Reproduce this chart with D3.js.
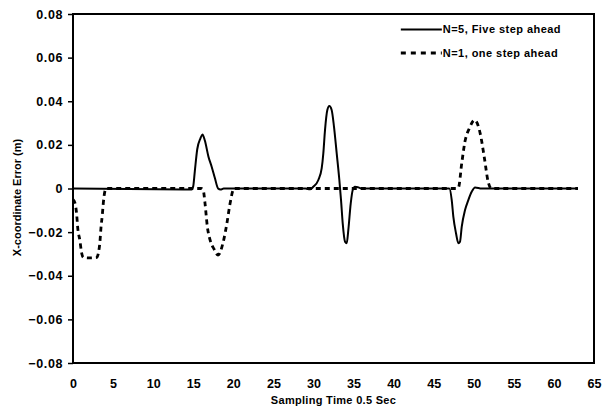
<!DOCTYPE html>
<html>
<head>
<meta charset="utf-8">
<script src="https://cdn.jsdelivr.net/npm/d3@7"></script>
<style>
  body { margin: 0; background: #fff; }
  text { font-family: "Liberation Sans", Arial, sans-serif; font-weight: bold; fill: #000; }
</style>
</head>
<body>
<div id="chart"></div>
<script>
// Data
let timeFive = [0, 14.8, 15.0, 15.2, 15.5, 15.9, 16.15, 16.45, 16.9, 17.3, 17.7, 18.1, 18.4, 18.8,
  29.0, 29.57, 29.98, 30.61, 31.03, 31.23, 31.44, 31.73, 31.98, 32.27, 32.56, 32.9, 33.23, 33.44,
  33.65, 33.94, 34.15, 34.35, 34.65, 34.9, 35.18, 35.6, 36.0,
  46.6, 46.95, 47.25, 47.45, 47.79, 48.08, 48.28, 48.5, 48.91, 49.32, 49.74, 50.16, 50.99, 63];
let errFive = [0, -0.0005, 0.001, 0.008, 0.018, 0.023, 0.0248, 0.022, 0.0146, 0.01, 0.0048, 0, -0.0005, 0,
  0, -0.0004, 0.0008, 0.0039, 0.0093, 0.0161, 0.0268, 0.036, 0.0378, 0.036, 0.0284, 0.0161, 0.0039, -0.0053,
  -0.016, -0.0244, -0.0251, -0.019, -0.0068, -0.0007, 0.0008, 0.0005, 0,
  0, 0, -0.0053, -0.0129, -0.0206, -0.0251, -0.0244, -0.0175, -0.0099, -0.0053, -0.0015, 0.0005, 0, 0];

let timeOne = [0, 0.25, 0.46, 0.59, 0.87, 1.05, 1.29, 2.0, 2.96, 3.16, 3.37, 3.49, 3.66, 3.78, 4.12,
  16.0, 16.26, 16.47, 16.76, 17.1, 17.6, 18.1, 18.75, 19.2, 19.6, 20.1,
  47.9, 48.1, 48.5, 48.9, 49.45, 50.1, 50.8, 51.3, 51.8, 52.2, 63];
let errOne = [-0.005, -0.0067, -0.012, -0.018, -0.024, -0.029, -0.0316, -0.0318, -0.0316, -0.0297, -0.024, -0.018, -0.012, -0.0067, 0,
  0, -0.001, -0.0068, -0.0175, -0.0236, -0.0278, -0.0305, -0.0244, -0.016, -0.0068, 0,
  0, 0.0005, 0.0116, 0.0215, 0.0276, 0.0314, 0.0253, 0.0146, 0.003, 0, 0];

let xTicks = d3.range(0, 66, 5);
let yTicks = [-0.08, -0.06, -0.04, -0.02, 0, 0.02, 0.04, 0.06, 0.08];
let seriesNames = ["N=5, Five step ahead", "N=1, one step ahead"];

// Dimensions of chart.
let margin = { top: 14, right: 17, bottom: 46, left: 73 },
  width = 611 - margin.left - margin.right,
  height = 409 - margin.top - margin.bottom;

let svg = d3
  .select("#chart")
  .append("svg")
  .attr("width", 611)
  .attr("height", 409)
  .append("g")
  .attr("transform", "translate(" + margin.left + "," + margin.top + ")");

let x = d3.scaleLinear().domain([0, 65]).range([0, width]);
let y = d3.scaleLinear().domain([-0.08, 0.08]).range([height, 0]);

// x-axis
let xAxis = d3.axisBottom(x).tickValues(xTicks).tickSize(0).tickPadding(16);
let xAxisEl = svg
  .append("g")
  .attr("transform", "translate(0," + height + ")")
  .call(xAxis);
xAxisEl.select(".domain").remove();
xAxisEl.selectAll("text").style("font-size", "12.5px").style("font-family", null);

// y-axis
let yAxis = d3
  .axisLeft(y)
  .tickValues(yTicks)
  .tickSize(5)
  .tickPadding(5)
  .tickFormat((d) => (d === 0 ? "0" : d3.format(".2f")(d)));
let yAxisEl = svg.append("g").call(yAxis);
yAxisEl.select(".domain").remove();
yAxisEl.selectAll("line").attr("stroke", "#000").attr("stroke-width", 1.5);
yAxisEl
  .selectAll("text")
  .style("font-size", "12.5px")
  .style("letter-spacing", "0.6px")
  .style("font-family", null);

// axis titles
svg
  .append("text")
  .attr("x", width / 2)
  .attr("y", height + 41)
  .attr("text-anchor", "middle")
  .style("font-size", "11px")
  .style("letter-spacing", "0.3px")
  .text("Sampling Time 0.5 Sec");
svg
  .append("text")
  .attr("transform", "translate(" + -52 + "," + (height / 2 + 9) + ") rotate(-90)")
  .attr("text-anchor", "middle")
  .style("font-size", "11px")
  .text("X-coordinate Error (m)");

// lines
let line = d3
  .line()
  .x((d) => x(d[0]))
  .y((d) => y(d[1]))
  .curve(d3.curveMonotoneX);

let dataOne = timeOne.map((t, i) => [t, errOne[i]]);
let dataFive = timeFive.map((t, i) => [t, errFive[i]]);

svg
  .append("path")
  .attr("d", line(dataOne))
  .attr("fill", "none")
  .attr("stroke", "#000")
  .attr("stroke-width", 2.8)
  .attr("stroke-dasharray", "5,4");

svg
  .append("path")
  .attr("d", line(dataFive))
  .attr("fill", "none")
  .attr("stroke", "#000")
  .attr("stroke-width", 2);

// frame
svg
  .append("rect")
  .attr("x", 0)
  .attr("y", 0)
  .attr("width", width)
  .attr("height", height)
  .attr("fill", "none")
  .attr("stroke", "#000")
  .attr("stroke-width", 2);

// legend
let legend = svg.append("g").attr("transform", "translate(" + (x(40.9)) + ",0)");
seriesNames.forEach(function (name, i) {
  let ly = 15.5 + i * 23.5;
  legend
    .append("line")
    .attr("x1", 0)
    .attr("x2", 41)
    .attr("y1", ly)
    .attr("y2", ly)
    .attr("stroke", "#000")
    .attr("stroke-width", i === 0 ? 2 : 3)
    .attr("stroke-dasharray", i === 0 ? null : "5,5");
  legend
    .append("text")
    .attr("x", 42)
    .attr("y", ly)
    .attr("dy", "0.35em")
    .style("font-size", "11px")
    .style("letter-spacing", "0.45px")
    .text(name);
});
</script>
</body>
</html>
